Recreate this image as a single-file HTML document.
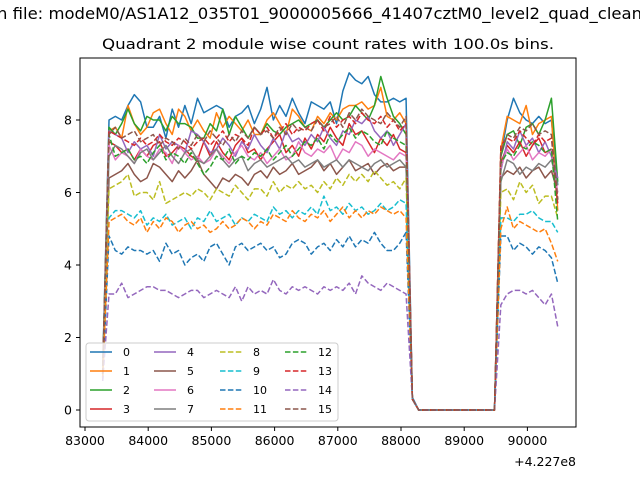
<!DOCTYPE html>
<html><head><meta charset="utf-8"><style>
html,body{margin:0;padding:0;background:#fff;}
svg{display:block;font-family:"DejaVu Sans","Liberation Sans",sans-serif;}
</style></head><body>
<svg id="chart" width="640" height="480" viewBox="0 0 640 480" xmlns="http://www.w3.org/2000/svg">
<rect width="640" height="480" fill="#fff"/>
<text x="-3" y="19" font-size="16" textLength="645" lengthAdjust="spacingAndGlyphs">n file: modeM0/AS1A12_035T01_9000005666_41407cztM0_level2_quad_clean</text>
<text x="328" y="49" font-size="13.9" text-anchor="middle" textLength="452" lengthAdjust="spacingAndGlyphs">Quadrant 2 module wise count rates with 100.0s bins.</text>
<g id="plot"></g>
<g id="axes"></g>
<g id="legend"></g>
</svg>
<script>
const xTicks=[83000,84000,85000,86000,87000,88000,89000,90000];
const yTicks=[0,2,4,6,8];
const t0=83280, dt=100;
const names=["0","1","2","3","4","5","6","7","8","9","10","11","12","13","14","15"];
const s0=[1.2,8.0,8.1,8.0,8.4,8.7,8.5,7.8,7.8,8.1,7.5,8.3,7.8,8.4,7.9,8.6,8.2,8.3,8.4,8.3,7.8,8.1,8.2,8.4,7.9,8.3,8.9,8.0,8.4,8.1,8.6,8.2,7.9,8.5,8.4,8.3,8.5,7.9,8.8,9.3,9.1,9.0,9.2,8.7,8.5,8.5,8.6,8.5,8.6,0.35,0,0,0,0,0,0,0,0,0,0,0,0,0,7.0,8.0,8.6,8.2,8.0,7.9,8.1,7.9,8.0,6.2];
const s1=[1.0,7.7,7.8,7.5,8.4,7.9,7.6,7.8,8.2,8.3,7.9,7.6,8.3,8.1,7.7,8.0,7.7,7.5,8.2,7.8,8.1,7.9,7.7,8.0,7.6,7.6,8.0,8.2,7.9,7.6,8.3,8.1,7.8,7.7,8.1,7.9,8.2,8.0,8.3,8.4,8.4,8.5,8.3,8.4,8.9,8.1,8.0,8.2,7.9,0.3,0,0,0,0,0,0,0,0,0,0,0,0,0,7.2,8.1,8.0,7.9,8.4,7.6,7.9,8.0,8.1,5.5];
const s2=[1.1,7.8,7.6,7.9,8.3,7.9,7.7,8.1,8.0,8.0,7.7,8.1,7.9,7.9,7.8,7.5,7.5,7.9,7.7,8.3,7.6,8.1,7.8,7.5,7.8,7.6,7.9,7.7,7.6,7.8,7.9,8.0,7.8,7.9,8.0,7.8,8.0,8.2,8.0,8.1,8.4,8.2,8.0,8.4,9.2,8.6,8.1,7.9,7.6,0.3,0,0,0,0,0,0,0,0,0,0,0,0,0,7.0,7.6,7.7,7.3,7.8,7.9,7.6,8.0,8.6,6.3];
const s3=[1.0,7.4,7.3,7.1,7.2,6.9,7.2,7.0,7.3,7.4,7.0,7.1,7.3,7.2,7.0,6.9,7.4,7.0,7.4,7.1,6.9,7.3,7.5,7.1,7.2,6.9,7.2,7.4,7.6,7.1,7.3,7.0,7.5,7.2,7.6,7.4,7.8,7.5,7.3,7.9,7.6,7.7,7.4,7.1,7.5,7.3,7.6,7.2,7.1,0.3,0,0,0,0,0,0,0,0,0,0,0,0,0,6.8,7.3,7.1,7.4,7.0,7.3,7.5,7.1,7.2,5.7];
const s4=[0.9,7.7,7.6,7.5,7.1,7.4,7.2,7.3,7.0,7.6,7.2,7.4,7.3,7.1,7.7,7.6,7.4,7.1,7.2,7.5,7.3,7.0,7.4,7.2,7.6,7.3,7.1,7.5,7.2,7.7,7.4,7.5,7.3,7.6,7.4,7.8,7.5,7.3,7.7,7.6,8.0,7.9,8.1,7.7,7.5,7.7,7.3,7.6,7.9,0.3,0,0,0,0,0,0,0,0,0,0,0,0,0,6.6,7.4,7.2,7.7,7.3,7.5,7.1,7.4,7.0,6.4];
const s5=[0.9,6.4,6.5,6.6,6.8,6.5,6.3,6.4,6.8,6.7,6.5,6.3,6.6,6.4,6.6,6.9,6.5,6.3,6.1,6.4,6.3,6.5,6.4,6.2,6.5,6.6,6.4,6.7,6.5,6.6,6.8,6.5,6.6,6.7,6.9,6.6,6.8,6.5,6.7,6.9,6.6,6.7,6.8,6.5,6.7,6.8,6.6,6.7,6.7,0.3,0,0,0,0,0,0,0,0,0,0,0,0,0,6.4,6.6,6.5,6.7,6.4,6.6,6.7,6.4,6.6,6.0];
const s6=[1.0,7.3,6.9,7.1,7.0,6.8,7.2,7.0,6.9,7.2,7.1,6.8,7.3,7.1,6.9,7.0,6.8,6.9,7.2,7.0,6.8,7.1,7.3,7.0,6.9,7.1,6.8,7.0,7.2,6.9,7.0,7.4,7.1,7.0,7.2,7.1,7.3,6.9,7.2,7.1,7.4,7.3,7.0,7.2,7.1,7.0,6.9,7.1,7.0,0.3,0,0,0,0,0,0,0,0,0,0,0,0,0,6.7,7.2,6.9,7.1,7.3,6.9,7.1,7.0,7.2,6.0];
const s7=[1.0,7.0,7.3,7.2,7.0,6.8,7.1,7.2,6.9,7.1,7.3,7.0,6.8,7.1,7.2,6.9,6.8,7.0,7.2,6.9,6.7,6.9,7.0,6.6,6.8,6.9,6.7,6.8,6.9,7.0,6.8,6.9,6.7,6.8,6.9,6.7,6.8,6.9,6.7,6.9,6.8,6.7,6.6,6.8,6.9,6.7,6.8,6.9,6.7,0.3,0,0,0,0,0,0,0,0,0,0,0,0,0,6.3,6.9,6.8,6.5,6.7,6.6,6.8,6.7,6.9,6.2];
const s8=[0.9,6.1,6.2,6.3,6.5,5.9,6.0,6.0,5.8,6.3,5.7,5.8,5.9,6.0,5.9,6.1,6.0,5.8,6.1,6.0,5.9,6.2,6.0,5.8,6.1,6.1,5.9,6.3,6.0,6.2,6.1,6.3,6.1,6.2,6.0,6.3,6.1,6.4,6.2,6.5,6.3,6.5,6.3,6.6,6.4,6.2,6.3,6.1,6.4,0.3,0,0,0,0,0,0,0,0,0,0,0,0,0,6.0,6.1,5.8,6.3,6.0,6.2,5.7,5.9,5.9,5.3];
const s9=[0.9,5.3,5.5,5.5,5.4,5.3,5.5,5.1,5.3,5.2,5.4,5.1,5.2,5.3,5.0,5.3,5.2,5.5,5.2,5.3,5.4,5.1,5.3,5.2,5.4,5.3,5.2,5.6,5.4,5.5,5.3,5.5,5.4,5.6,5.4,5.9,5.5,5.6,5.4,5.7,5.5,5.6,5.4,5.5,5.7,5.5,5.6,5.8,5.7,0.3,0,0,0,0,0,0,0,0,0,0,0,0,0,5.3,5.3,5.2,5.4,5.4,5.5,5.3,5.2,5.2,4.9];
const s10=[0.8,4.8,4.4,4.3,4.5,4.4,4.4,4.3,4.4,4.1,4.6,4.3,4.4,4.0,4.2,4.3,4.1,4.5,4.6,4.3,4.0,4.5,4.6,4.4,4.5,4.6,4.4,4.5,4.2,4.3,4.6,4.7,4.6,4.3,4.5,4.6,4.4,4.7,4.5,4.8,4.5,4.7,4.6,4.9,4.6,4.4,4.4,4.6,4.9,0.3,0,0,0,0,0,0,0,0,0,0,0,0,0,4.8,4.8,4.4,4.6,4.5,4.3,4.5,4.4,4.2,3.5];
const s11=[0.9,5.2,5.3,5.4,5.2,5.1,5.3,4.9,5.2,5.0,5.3,5.2,4.9,5.1,5.2,5.0,5.1,4.9,5.0,5.2,5.0,5.1,5.3,5.2,5.0,5.2,5.1,5.4,5.3,5.2,5.5,5.3,5.2,5.4,5.3,5.5,5.2,5.4,5.6,5.3,5.5,5.3,5.5,5.4,5.6,5.5,5.4,5.5,5.3,0.3,0,0,0,0,0,0,0,0,0,0,0,0,0,5.0,5.6,5.0,5.2,5.1,5.0,4.9,5.0,4.6,4.1];
const s12=[1.0,7.6,7.0,7.1,7.2,6.9,7.0,6.8,7.1,7.3,6.9,7.1,7.0,6.8,7.1,6.8,6.5,6.7,7.0,6.9,7.2,6.8,7.0,6.9,7.1,7.0,7.2,6.9,7.1,7.3,7.0,7.2,7.4,7.3,7.5,7.2,7.6,7.4,7.6,7.8,7.5,7.7,7.6,7.4,7.3,7.7,7.5,7.4,7.3,0.3,0,0,0,0,0,0,0,0,0,0,0,0,0,6.8,7.1,7.0,7.3,7.2,7.4,7.3,7.1,7.2,5.2];
const s13=[1.0,7.7,7.6,7.5,7.4,7.3,7.5,7.3,7.4,7.6,7.4,7.3,7.5,7.4,7.2,7.4,7.5,7.3,7.5,7.7,7.4,7.6,7.5,7.3,7.8,7.6,7.8,7.5,7.7,7.9,7.6,7.8,7.7,7.9,8.0,7.7,8.1,7.8,8.0,8.1,7.9,8.2,8.0,7.9,8.1,7.8,8.0,7.7,7.9,0.3,0,0,0,0,0,0,0,0,0,0,0,0,0,7.3,7.5,7.4,7.7,7.5,7.3,7.6,7.4,7.5,5.8];
const s14=[0.8,3.2,3.2,3.5,3.1,3.2,3.3,3.4,3.4,3.3,3.3,3.2,3.1,3.2,3.3,3.3,3.1,3.2,3.3,3.2,3.1,3.4,3.0,3.4,3.2,3.3,3.2,3.6,3.3,3.2,3.4,3.3,3.4,3.3,3.2,3.4,3.3,3.4,3.3,3.5,3.2,3.7,3.5,3.4,3.3,3.5,3.4,3.3,3.2,0.3,0,0,0,0,0,0,0,0,0,0,0,0,0,2.9,3.2,3.3,3.3,3.2,3.3,3.1,2.9,3.2,2.3];
const s15=[1.0,7.6,7.8,7.5,7.6,7.7,7.4,7.5,7.6,7.3,7.5,7.4,7.2,7.5,7.3,7.6,7.4,7.7,7.5,7.3,7.6,7.4,7.7,7.5,7.8,7.6,7.7,7.5,7.8,7.6,7.9,7.7,7.8,7.7,8.0,7.8,7.9,8.1,7.8,8.2,8.0,8.3,8.1,8.0,7.9,8.2,8.0,7.8,8.1,0.3,0,0,0,0,0,0,0,0,0,0,0,0,0,7.1,7.6,7.5,7.8,7.7,7.9,7.6,7.7,7.6,5.8];
const series=[s0,s1,s2,s3,s4,s5,s6,s7,s8,s9,s10,s11,s12,s13,s14,s15];
const colors=["#1f77b4","#ff7f0e","#2ca02c","#d62728","#9467bd","#8c564b","#e377c2","#7f7f7f","#bcbd22","#17becf","#1f77b4","#ff7f0e","#2ca02c","#d62728","#9467bd","#8c564b"];

const NS="http://www.w3.org/2000/svg";
const L=80,R=576,T=58,B=427;
function xs(v){return 85+(v-83000)*0.0632;}
function ys(v){return 410-v*36.25;}
function mk(tag,attrs,parent){const e=document.createElementNS(NS,tag);for(const k in attrs)e.setAttribute(k,attrs[k]);parent.appendChild(e);return e;}
const plot=document.getElementById('plot');
const axes=document.getElementById('axes');
const leg=document.getElementById('legend');

series.forEach((s,k)=>{
  const pts=s.map((v,i)=>xs(t0+i*dt).toFixed(2)+","+ys(v).toFixed(2)).join(" ");
  const p=mk('polyline',{points:pts,fill:'none',stroke:colors[k],'stroke-width':1.5,'stroke-linejoin':'round'},plot);
  if(k>=8)p.setAttribute('stroke-dasharray','5.5,2.4');
  
  
});

const frame=mk('rect',{x:L,y:T,width:R-L,height:B-T,fill:'none',stroke:'#000','stroke-width':1},axes);


xTicks.forEach(v=>{
  const x=xs(v);
  const tk=mk('line',{x1:x,x2:x,y1:B,y2:B+4,stroke:'#000'},axes);
  
  
  const tx=mk('text',{x:x,y:B+18,'font-size':12.5,'text-anchor':'middle'},axes);
  tx.textContent=v;
  
  
});
yTicks.forEach(v=>{
  const y=ys(v);
  const tk=mk('line',{x1:L-4,x2:L,y1:y,y2:y,stroke:'#000'},axes);
  
  
  const tx=mk('text',{x:L-8,y:y+4.5,'font-size':12.5,'text-anchor':'end'},axes);
  tx.textContent=v;
  
  
});
const off=mk('text',{x:R,y:466,'font-size':12.5,'text-anchor':'end'},axes);
off.textContent="+4.227e8";



const box=mk('rect',{x:86,y:343,width:252,height:78,rx:3,fill:'#fff','fill-opacity':0.8,stroke:'#ccc'},leg);


const colX=[88,152,218,283];
names.forEach((n,k)=>{
  const c=Math.floor(k/4), r=k%4;
  const x=colX[c], y=352+r*19;
  const ln=mk('line',{x1:x+2,x2:x+24,y1:y,y2:y,stroke:colors[k],'stroke-width':1.5},leg);
  if(k>=8)ln.setAttribute('stroke-dasharray','5.5,2.4');
  
  
  const tx=mk('text',{x:x+35,y:y+4,'font-size':11},leg);
  tx.textContent=n;
  
  
});
</script>
</body></html>
